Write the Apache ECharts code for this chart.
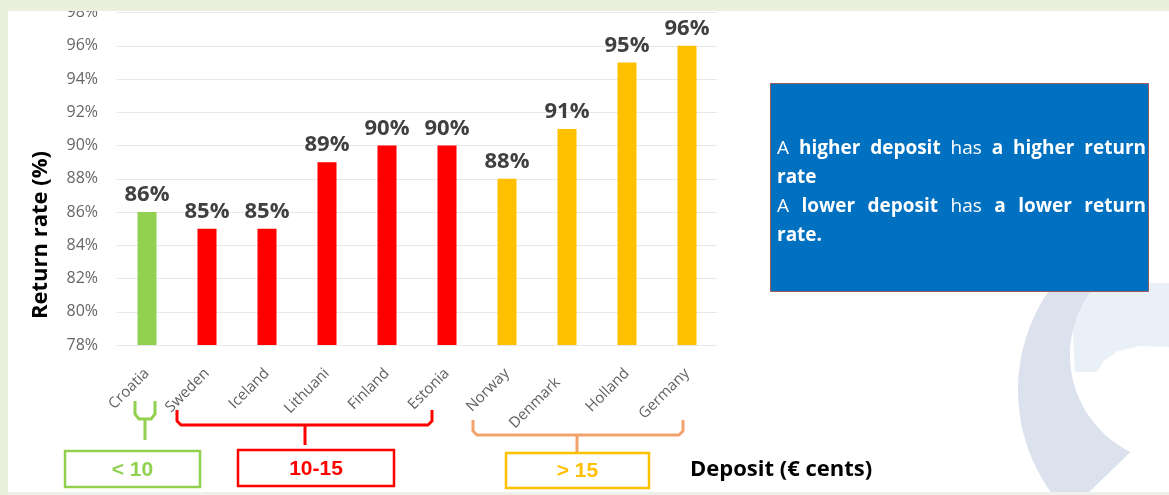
<!DOCTYPE html>
<html>
<head>
<meta charset="utf-8">
<script src="https://cdn.jsdelivr.net/npm/echarts@6/dist/echarts.min.js"></script>
<style>
  html, body { margin: 0; padding: 0; background: #ffffff; }
  #chart { width: 1169px; height: 495px; }
</style>
</head>
<body>
<div id="chart"></div>
<script>
// Countries and their container return rate (%)
const categories = ['Croatia', 'Sweden', 'Iceland', 'Lithuani', 'Finland', 'Estonia', 'Norway', 'Denmark', 'Holland', 'Germany'];
const returnRates = [86, 85, 85, 89, 90, 90, 88, 91, 95, 96];
// Deposit band of each country: 0 = < 10, 1 = 10-15, 2 = > 15 (€ cents)
const depositBand = [0, 1, 1, 1, 1, 1, 2, 2, 2, 2];
const bandLabels = ['< 10', '10-15', '> 15'];
const bandColors = ['#92d050', '#ff0000', '#ffc000'];
// Value axis range
const yMin = 78, yMax = 98, yStep = 2;
const yTitle = 'Return rate (%)';
const xTitle = 'Deposit (€ cents)';
// Note text: each line is a list of [word, bold]
const noteLines = [
  { words: [['A', 0], ['higher', 1], ['deposit', 1], ['has', 0], ['a', 1], ['higher', 1], ['return', 1]], justify: true },
  { words: [['rate', 1]], justify: false },
  { words: [['A', 0], ['lower', 1], ['deposit', 1], ['has', 0], ['a', 1], ['lower', 1], ['return', 1]], justify: true },
  { words: [['rate.', 1]], justify: false }
];

const chart = echarts.init(document.getElementById('chart'), null, { renderer: 'canvas' });

// Build the justified note as rich text
const noteFont = 19, noteFamily = '"Open Sans", sans-serif', noteLH = 29, noteWidth = 369;
const ctx = document.createElement('canvas').getContext('2d');
function wordWidth(w, bold) {
  ctx.font = (bold ? 'bold ' : '') + noteFont + 'px ' + noteFamily;
  return ctx.measureText(w).width;
}
ctx.font = noteFont + 'px ' + noteFamily;
const plainSpace = ctx.measureText(' ').width;
const noteRich = {
  n: { fontSize: noteFont, fontFamily: noteFamily, fill: '#ffffff', lineHeight: noteLH },
  b: { fontSize: noteFont, fontFamily: noteFamily, fontWeight: 'bold', fill: '#ffffff', lineHeight: noteLH }
};
const noteText = noteLines.map(function (line, li) {
  let sp = plainSpace;
  if (line.justify && line.words.length > 1) {
    const total = line.words.reduce(function (s, w) { return s + wordWidth(w[0], w[1]); }, 0);
    sp = (noteWidth - total) / (line.words.length - 1);
  }
  const key = 's' + li;
  noteRich[key] = { width: sp, fontSize: noteFont, lineHeight: noteLH, fill: '#ffffff' };
  return line.words.map(function (w) { return '{' + (w[1] ? 'b' : 'n') + '|' + w[0] + '}'; }).join('{' + key + '| }');
}).join('\n');

// Left-hand half of a circle, sampled between two heights
function leftArc(cx, cy, r, yFrom, yTo) {
  const pts = [];
  const step = yTo > yFrom ? 3 : -3;
  for (let y = yFrom; step > 0 ? y <= yTo : y >= yTo; y += step) {
    pts.push([cx - Math.sqrt(r * r - (y - cy) * (y - cy)), y]);
  }
  return pts;
}
const emblemBand = leftArc(1193, 390, 175, 283, 497)
  .concat([[1084, 497]])
  .concat(leftArc(1178, 355, 108, 452, 283));
const emblemLight = [[1070, 283], [1169, 283], [1169, 347], [1140, 346], [1118, 351], [1104, 361], [1097, 372], [1075, 372]];

// Bracket helpers (annotation lines under the axis labels)
function bracket(x1, x2, yTop, yBar, stemX, yStem, color) {
  return [
    { type: 'polyline', z: 50, shape: { points: [[x1, yTop], [x1, yBar - 4], [x1 + 4, yBar], [x2 - 4, yBar], [x2, yBar - 4], [x2, yTop]] },
      style: { stroke: color, lineWidth: 3, fill: null, lineJoin: 'round' } },
    { type: 'line', z: 50, shape: { x1: stemX, y1: yBar, x2: stemX, y2: yStem }, style: { stroke: color, lineWidth: 3 } }
  ];
}
function bandBox(x, y, w, h, color, text) {
  return [
    { type: 'rect', z: 50, shape: { x: x, y: y, width: w, height: h }, style: { fill: '#ffffff', stroke: color, lineWidth: 2.5 } },
    { type: 'text', z: 51, x: x + w / 2, y: y + h / 2 + 1,
      style: { text: text, fill: color, font: 'bold 21px "Liberation Sans", Arial, sans-serif', align: 'center', verticalAlign: 'middle' } }
  ];
}

const graphics = [
  // corner emblem
  { type: 'polygon', z: 1, shape: { points: emblemLight }, style: { fill: '#e9f0f8' } },
  { type: 'polygon', z: 2, shape: { points: emblemBand }, style: { fill: '#dbe2ee' } },
  // note box
  { type: 'rect', z: 20, shape: { x: 770.5, y: 83.5, width: 378, height: 208 }, style: { fill: '#0070c0', stroke: '#9a5a5a', lineWidth: 1 } },
  { type: 'text', z: 21, x: 777, y: 149 - noteLH / 2, style: { text: noteText, rich: noteRich, fill: '#ffffff', align: 'left', verticalAlign: 'top' } },
  // axis titles
  { type: 'text', z: 30, x: 41, y: 235, rotation: Math.PI / 2,
    style: { text: yTitle, fill: '#000000', font: 'bold 22px "Open Sans", sans-serif', align: 'center', verticalAlign: 'middle' } },
  { type: 'text', z: 30, x: 690, y: 470,
    style: { text: xTitle, fill: '#000000', font: 'bold 22px "Open Sans", sans-serif', align: 'left', verticalAlign: 'middle' } }
]
  .concat([
    { type: 'polyline', z: 50, shape: { points: [[135, 401], [135, 414], [139, 419], [151, 419], [155, 414], [155, 401]] },
      style: { stroke: bandColors[0], lineWidth: 3, fill: null, lineJoin: 'round' } },
    { type: 'line', z: 50, shape: { x1: 145, y1: 419, x2: 145, y2: 440 }, style: { stroke: bandColors[0], lineWidth: 3 } }
  ])
  .concat(bracket(177, 432, 410, 425, 305, 445, bandColors[1]))
  .concat(bracket(473, 683, 420, 435, 577, 453, '#f2a36c'))
  .concat(bandBox(65, 451, 135, 36, bandColors[0], bandLabels[0]))
  .concat(bandBox(238, 450, 156, 36, bandColors[1], bandLabels[1]))
  .concat(bandBox(506, 453, 143, 35, bandColors[2], bandLabels[2]))
  .concat([
    // page frame
    { type: 'rect', z: 100, shape: { x: 0, y: 0, width: 1169, height: 11 }, style: { fill: '#e9f0dd' } },
    { type: 'rect', z: 100, shape: { x: 0, y: 0, width: 8, height: 495 }, style: { fill: '#e9f0dd' } },
    { type: 'rect', z: 100, shape: { x: 8, y: 492, width: 1161, height: 3 }, style: { fill: '#eef0ec' } }
  ]);

chart.setOption({
  animation: false,
  backgroundColor: '#ffffff',
  grid: { left: 117, right: 452, top: 12.5, bottom: 150, containLabel: false },
  xAxis: {
    type: 'category',
    data: categories,
    axisLine: { show: false },
    axisTick: { show: false },
    axisLabel: {
      interval: 0, rotate: 45, margin: 26,
      // Denmark is set back along its own baseline, clear of the Norway label
      formatter: function (v) { return v === 'Denmark' ? '{dk|' + v + '}' : v; },
      rich: {
        dk: { padding: [0, 13, 0, 0], color: '#5f5f5f', fontSize: 15, fontFamily: '"Open Sans", sans-serif' }
      },
      color: '#5f5f5f', fontSize: 15, fontFamily: '"Open Sans", sans-serif'
    }
  },
  yAxis: {
    type: 'value',
    min: yMin, max: yMax, interval: yStep,
    axisLine: { show: false },
    axisTick: { show: false },
    splitLine: { lineStyle: { color: '#e8e8e8', width: 1 } },
    axisLabel: {
      formatter: '{value}%', margin: 19,
      color: '#666666', fontSize: 16, fontFamily: '"Open Sans", sans-serif'
    }
  },
  series: [{
    type: 'bar',
    barWidth: 19,
    data: returnRates.map(function (v, i) {
      return { value: v, itemStyle: { color: bandColors[depositBand[i]] } };
    }),
    label: {
      show: true, position: 'top', distance: 6,
      formatter: '{c}%',
      color: '#404040', fontSize: 22, fontWeight: 'bold', fontFamily: '"Open Sans", sans-serif'
    }
  }],
  graphic: { elements: graphics }
});
</script>
</body>
</html>
